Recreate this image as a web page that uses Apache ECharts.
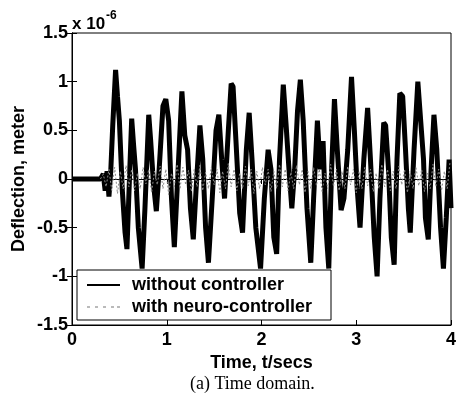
<!DOCTYPE html>
<html>
<head>
<meta charset="utf-8">
<script src="https://cdn.jsdelivr.net/npm/echarts@6/dist/echarts.min.js"></script>
<style>
  html, body { margin: 0; padding: 0; background: #fff; }
  #main { width: 469px; height: 404px; }
</style>
</head>
<body>
<div id="main"></div>
<script>
// 数据（单位 x 10^-6 m）
const xTicks = [0, 1, 2, 3, 4]
const yTicks = [-1.5, -1, -0.5, 0, 0.5, 1, 1.5]

// without controller: [time, deflection]
const withoutCtrl = [
  [0, 0], [0.30, 0], [0.33, 0.05], [0.35, -0.12], [0.37, 0.08], [0.39, -0.18], [0.41, 0.1],
  [0.43, 0.55], [0.46, 1.12], [0.48, 0.85], [0.50, 0.6], [0.53, -0.1], [0.56, -0.55], [0.58, -0.72],
  [0.61, 0.1], [0.63, 0.62], [0.65, 0.35], [0.67, 0.1], [0.70, -0.5], [0.74, -0.92], [0.77, -0.3],
  [0.81, 0.66], [0.83, 0.4], [0.86, -0.05], [0.89, -0.33], [0.92, 0.1], [0.96, 0.75], [0.99, 0.82],
  [1.02, 0.6], [1.05, -0.2], [1.08, -0.7], [1.11, -0.1], [1.16, 0.9], [1.19, 0.45], [1.22, 0.3],
  [1.25, -0.3], [1.28, -0.62], [1.31, -0.1], [1.35, 0.55], [1.38, 0.2], [1.41, -0.5], [1.44, -0.86],
  [1.48, -0.2], [1.52, 0.5], [1.55, 0.66], [1.58, 0.2], [1.61, -0.2], [1.65, 0.5], [1.68, 0.98],
  [1.70, 0.95], [1.73, 0.4], [1.77, -0.35], [1.80, -0.55], [1.84, 0.3], [1.87, 0.68], [1.90, 0.2],
  [1.94, -0.5], [1.99, -0.92], [2.03, -0.2], [2.07, 0.3], [2.10, 0.1], [2.13, -0.6], [2.16, -0.77],
  [2.19, 0.2], [2.23, 0.97], [2.26, 0.55], [2.29, 0.1], [2.32, -0.3], [2.35, 0.1], [2.38, 0.7],
  [2.41, 1.02], [2.44, 0.6], [2.48, -0.3], [2.52, -0.86], [2.55, -0.2], [2.59, 0.6], [2.62, 0.1],
  [2.65, 0.39], [2.68, -0.5], [2.71, -0.92], [2.74, 0.1], [2.77, 0.82], [2.80, 0.3], [2.84, -0.32],
  [2.87, -0.2], [2.91, 0.3], [2.95, 1.05], [2.98, 0.5], [3.01, -0.1], [3.04, -0.5], [3.08, 0.2],
  [3.12, 0.73], [3.15, 0.2], [3.19, -0.6], [3.22, -1.0], [3.25, -0.2], [3.29, 0.58], [3.31, 0.55],
  [3.34, 0.1], [3.37, -0.6], [3.40, -0.88], [3.43, 0.2], [3.46, 0.88], [3.49, 0.85], [3.52, 0.3],
  [3.55, -0.3], [3.57, -0.55], [3.61, 0.3], [3.65, 1.0], [3.68, 0.6], [3.71, 0.2], [3.73, -0.4],
  [3.76, -0.62], [3.79, 0.1], [3.82, 0.66], [3.85, 0.3], [3.89, -0.5], [3.92, -0.92], [3.95, -0.4],
  [3.98, 0.2], [4.0, -0.3]
]

// with neuro-controller: [time, deflection]
const withNeuro = [
  [0.30, 0], [0.33, 0.05], [0.36, -0.08], [0.39, 0.1], [0.42, -0.12], [0.45, 0.12], [0.48, -0.15],
  [0.51, 0.08], [0.54, -0.1], [0.57, 0.14], [0.60, -0.08], [0.63, 0.1], [0.66, -0.12], [0.69, 0.06],
  [0.72, -0.1], [0.75, 0.12], [0.78, -0.05], [0.81, 0.1], [0.84, -0.14], [0.87, 0.08], [0.90, -0.06],
  [0.93, 0.13], [0.96, -0.1], [0.99, 0.1], [1.02, -0.16], [1.05, 0.06], [1.08, -0.08], [1.11, 0.15],
  [1.14, -0.1], [1.17, 0.12], [1.20, -0.06], [1.23, 0.09], [1.26, -0.13], [1.29, 0.1], [1.32, -0.08],
  [1.35, 0.14], [1.38, -0.12], [1.41, 0.07], [1.44, -0.1], [1.47, 0.12], [1.50, -0.06], [1.53, 0.1],
  [1.56, -0.14], [1.59, 0.08], [1.62, -0.1], [1.65, 0.16], [1.68, -0.08], [1.71, 0.1], [1.74, -0.12],
  [1.77, 0.06], [1.80, -0.1], [1.83, 0.13], [1.86, -0.07], [1.89, 0.1], [1.92, -0.15], [1.95, 0.08],
  [1.98, -0.1], [2.01, 0.12], [2.04, -0.06], [2.07, 0.1], [2.10, -0.13], [2.13, 0.08], [2.16, -0.1],
  [2.19, 0.15], [2.22, -0.08], [2.25, 0.1], [2.28, -0.12], [2.31, 0.07], [2.34, -0.1], [2.37, 0.14],
  [2.40, -0.06], [2.43, 0.1], [2.46, -0.14], [2.49, 0.08], [2.52, -0.1], [2.55, 0.12], [2.58, -0.07],
  [2.61, 0.1], [2.64, -0.13], [2.67, 0.06], [2.70, -0.1], [2.73, 0.15], [2.76, -0.08], [2.79, 0.1],
  [2.82, -0.12], [2.85, 0.08], [2.88, -0.1], [2.91, 0.13], [2.94, -0.06], [2.97, 0.1], [3.00, -0.14],
  [3.03, 0.08], [3.06, -0.1], [3.09, 0.12], [3.12, -0.07], [3.15, 0.1], [3.18, -0.13], [3.21, 0.06],
  [3.24, -0.1], [3.27, 0.15], [3.30, -0.08], [3.33, 0.1], [3.36, -0.12], [3.39, 0.08], [3.42, -0.1],
  [3.45, 0.13], [3.48, -0.06], [3.51, 0.1], [3.54, -0.14], [3.57, 0.08], [3.60, -0.1], [3.63, 0.12],
  [3.66, -0.07], [3.69, 0.1], [3.72, -0.13], [3.75, 0.06], [3.78, -0.1], [3.81, 0.15], [3.84, -0.08],
  [3.87, 0.1], [3.90, -0.12], [3.93, 0.08], [3.96, -0.1], [3.99, 0.18]
]

const seriesNames = ["without controller", "with neuro-controller"]

const font = "Liberation Sans, Arial, sans-serif"
const tickStyle = { show: true, inside: true, length: 5, lineStyle: { color: "#000", width: 1 } }
const labelStyle = { color: "#000", fontFamily: font, fontWeight: "bold", fontSize: 18 }

const chart = echarts.init(document.getElementById("main"), null, { renderer: "canvas" })

let options = {
  backgroundColor: "#fff",
  animation: false,
  grid: { left: 72, right: 18, top: 33, bottom: 79, show: true, borderColor: "#000", borderWidth: 1 },
  legend: {
    orient: "vertical",
    left: 77,
    top: 270,
    backgroundColor: "#fff",
    borderColor: "#000",
    borderWidth: 1,
    borderRadius: 0,
    padding: [5, 19, 3, 10],
    itemWidth: 33,
    itemHeight: 14,
    itemGap: 2,
    textStyle: { color: "#000", fontFamily: font, fontWeight: "bold", fontSize: 18, lineHeight: 20, padding: [0, 0, 0, 7] },
    data: [
      { name: seriesNames[0], icon: "path://M0,6 L33,6 L33,8 L0,8 Z", itemStyle: { color: "#000" } },
      { name: seriesNames[1], icon: "path://M0,7 L3,7 L3,8 L0,8 Z M8,7 L11,7 L11,8 L8,8 Z M16,7 L19,7 L19,8 L16,8 Z M24,7 L27,7 L27,8 L24,8 Z M30,7 L33,7 L33,8 L30,8 Z", itemStyle: { color: "#777" } }
    ]
  },
  xAxis: [
    {
      type: "value", min: xTicks[0], max: xTicks[xTicks.length - 1], interval: 1,
      name: "Time, t/secs", nameLocation: "middle", nameGap: 22,
      nameTextStyle: labelStyle,
      axisLine: { show: true, onZero: false, lineStyle: { color: "#000" } },
      axisTick: tickStyle,
      axisLabel: Object.assign({ margin: 6 }, labelStyle),
      splitLine: { show: false }
    },
    {
      type: "value", position: "top", min: xTicks[0], max: xTicks[xTicks.length - 1], interval: 1,
      axisLine: { show: true, lineStyle: { color: "#000" } },
      axisTick: tickStyle, axisLabel: { show: false }, splitLine: { show: false }
    }
  ],
  yAxis: [
    {
      type: "value", min: yTicks[0], max: yTicks[yTicks.length - 1], interval: 0.5,
      name: "Deflection, meter", nameLocation: "middle", nameGap: 44, nameRotate: 90,
      nameMoveOverlap: false,
      nameTextStyle: labelStyle,
      axisLine: { show: true, onZero: false, lineStyle: { color: "#000" } },
      axisTick: tickStyle,
      axisLabel: Object.assign({ margin: 4 }, labelStyle),
      splitLine: { show: false }
    },
    {
      type: "value", position: "right", min: yTicks[0], max: yTicks[yTicks.length - 1], interval: 0.5,
      axisLine: { show: true, lineStyle: { color: "#000" } },
      axisTick: tickStyle, axisLabel: { show: false }, splitLine: { show: false }
    }
  ],
  series: [
    {
      name: seriesNames[0], type: "line", symbol: "none", data: withoutCtrl, z: 2,
      lineStyle: { color: "#000", width: 5 }, itemStyle: { color: "#000" }
    },
    {
      name: seriesNames[1], type: "line", symbol: "none", data: withNeuro, z: 3,
      lineStyle: { color: "#888", width: 1, type: [2, 2] }, itemStyle: { color: "#888" }
    }
  ],
  graphic: [
    {
      type: "text", left: 72, top: 10,
      style: {
        text: "{a|x 10}{b|-6}",
        rich: {
          a: { fontFamily: font, fontWeight: "bold", fontSize: 17, fill: "#000", verticalAlign: "bottom" },
          b: { fontFamily: font, fontWeight: "bold", fontSize: 12, fill: "#000", verticalAlign: "top", padding: [0, 0, 11, 1] }
        }
      }
    },
    {
      type: "text", left: 190, top: 375,
      style: { text: "(a) Time domain.", fontFamily: "Liberation Serif, Times New Roman, serif", fontSize: 18, fill: "#000" }
    }
  ]
}

chart.setOption(options)
window.addEventListener("resize", function () {
  chart.resize()
})
</script>
</body>
</html>
